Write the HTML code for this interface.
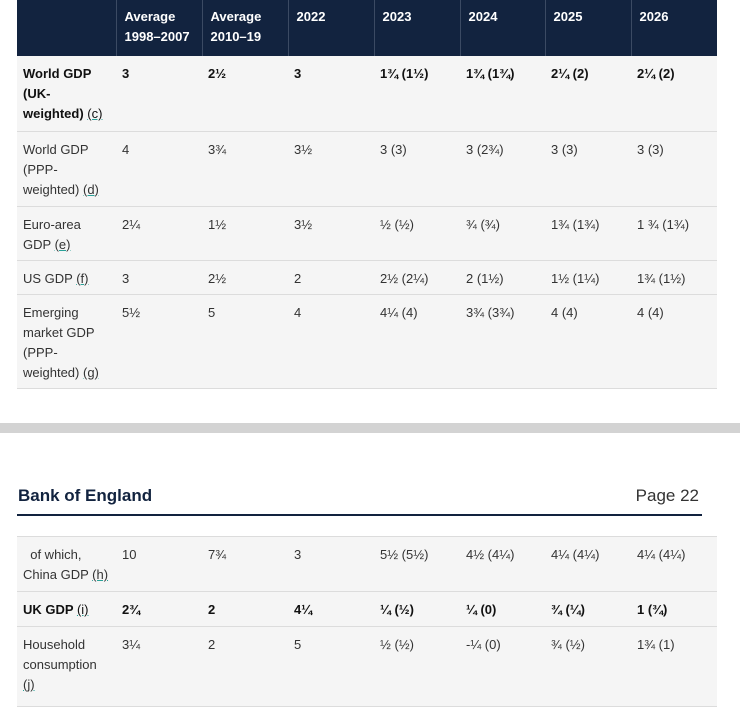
<!DOCTYPE html>
<html><head><meta charset="utf-8"><style>
body{margin:0;width:740px;height:698px;background:#fff;position:relative;overflow:hidden;font-family:"Liberation Sans",Arial,sans-serif;font-size:13px;color:#333}
table{position:absolute;left:17px;width:700px;border-collapse:collapse;table-layout:fixed}
td,th{vertical-align:top;padding:8px 6px 0 6px;line-height:20px;text-align:left;overflow:hidden}
th{background:#12233f;color:#fff;font-weight:bold;border-left:1px solid #3b4a63;padding-top:7px;padding-left:8px}
th:first-child{border-left:none}
td{background:#f5f5f5;border-bottom:1px solid #dcdcdc}
tr.b td{font-weight:bold;color:#111}
.n{text-decoration:underline;text-decoration-color:#2aa198;font-weight:normal}
.bar{position:absolute;left:0;top:423px;width:740px;height:10px;background:#d3d3d3}
.boe{position:absolute;left:18px;top:486px;font-size:17px;font-weight:bold;color:#12233f}
.pg{position:absolute;right:41px;top:486px;font-size:17px;color:#333}
.ln{position:absolute;left:17px;top:514px;width:685px;height:2px;background:#12233f}
</style></head><body>
<table style="top:0">
<colgroup><col style="width:99px"><col style="width:86px"><col style="width:86px"><col style="width:86px"><col style="width:86px"><col style="width:85px"><col style="width:86px"><col style="width:86px"></colgroup>
<tr style="height:56px"><th></th><th>Average 1998–2007</th><th>Average 2010–19</th><th>2022</th><th>2023</th><th>2024</th><th>2025</th><th>2026</th></tr>
<tr class="b" style="height:75px"><td>World GDP (UK-weighted) <span class="n">(c)</span></td><td>3</td><td>2½</td><td>3</td><td>1¾ (1½)</td><td>1¾ (1¾)</td><td>2¼ (2)</td><td>2¼ (2)</td></tr>
<tr style="height:75px"><td>World GDP (PPP-weighted) <span class="n">(d)</span></td><td>4</td><td>3¾</td><td>3½</td><td>3 (3)</td><td>3 (2¾)</td><td>3 (3)</td><td>3 (3)</td></tr>
<tr style="height:54px"><td>Euro-area GDP <span class="n">(e)</span></td><td>2¼</td><td>1½</td><td>3½</td><td>½ (½)</td><td>¾ (¾)</td><td>1¾ (1¾)</td><td>1 ¾ (1¾)</td></tr>
<tr style="height:34px"><td>US GDP <span class="n">(f)</span></td><td>3</td><td>2½</td><td>2</td><td>2½ (2¼)</td><td>2 (1½)</td><td>1½ (1¼)</td><td>1¾ (1½)</td></tr>
<tr style="height:94px"><td>Emerging market GDP (PPP-weighted) <span class="n">(g)</span></td><td>5½</td><td>5</td><td>4</td><td>4¼ (4)</td><td>3¾ (3¾)</td><td>4 (4)</td><td>4 (4)</td></tr>
</table>
<div class="bar"></div>
<div class="boe">Bank of England</div>
<div class="pg">Page 22</div>
<div class="ln"></div>
<table style="top:536px;border-top:1px solid #dcdcdc">
<colgroup><col style="width:99px"><col style="width:86px"><col style="width:86px"><col style="width:86px"><col style="width:86px"><col style="width:85px"><col style="width:86px"><col style="width:86px"></colgroup>
<tr style="height:55px"><td>&nbsp; of which, China GDP <span class="n">(h)</span></td><td>10</td><td>7¾</td><td>3</td><td>5½ (5½)</td><td>4½ (4¼)</td><td>4¼ (4¼)</td><td>4¼ (4¼)</td></tr>
<tr class="b" style="height:35px"><td>UK GDP <span class="n">(i)</span></td><td>2¾</td><td>2</td><td>4¼</td><td>¼ (½)</td><td>¼ (0)</td><td>¾ (¼)</td><td>1 (¾)</td></tr>
<tr style="height:80px"><td>Household consumption <span class="n">(j)</span></td><td>3¼</td><td>2</td><td>5</td><td>½ (½)</td><td>-¼ (0)</td><td>¾ (½)</td><td>1¾ (1)</td></tr>
</table>
</body></html>
